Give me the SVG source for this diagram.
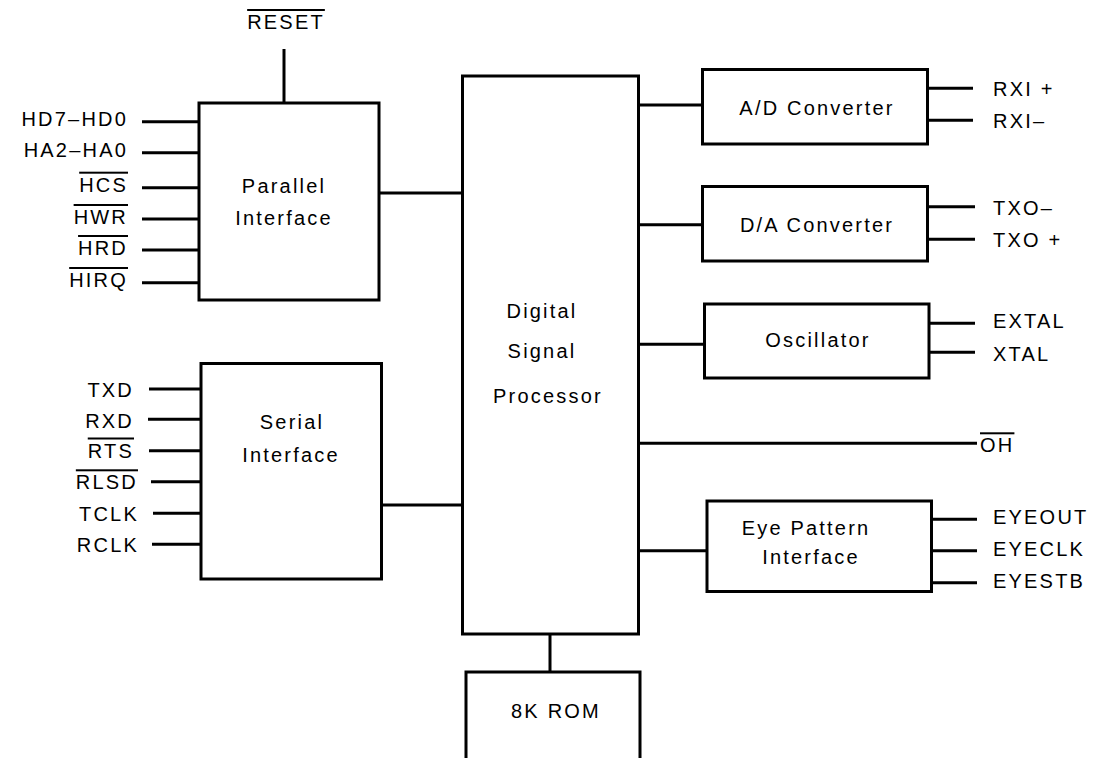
<svg xmlns="http://www.w3.org/2000/svg" width="1095" height="758" viewBox="0 0 1095 758">
<style>
.box{fill:none;stroke:#000;stroke-width:3}
.ln{stroke:#000;stroke-width:3;fill:none}
text{font-family:"Liberation Sans",Arial,sans-serif;font-size:20px;letter-spacing:2.2px;fill:#000}
.c{text-anchor:middle}
.e{text-anchor:end}
.ob{text-decoration:overline}
</style>
<rect x="0" y="0" width="1095" height="758" fill="#fff"/>
<g id="connectors">
<line class="ln" x1="284" y1="49" x2="284" y2="103"/>
<line class="ln" x1="142" y1="121.7" x2="199" y2="121.7"/>
<line class="ln" x1="142" y1="152.7" x2="199" y2="152.7"/>
<line class="ln" x1="142" y1="187.7" x2="199" y2="187.7"/>
<line class="ln" x1="142" y1="219" x2="199" y2="219"/>
<line class="ln" x1="142" y1="250" x2="199" y2="250"/>
<line class="ln" x1="142" y1="282.7" x2="199" y2="282.7"/>
<line class="ln" x1="379" y1="193" x2="462" y2="193"/>
<line class="ln" x1="149" y1="389" x2="201" y2="389"/>
<line class="ln" x1="148" y1="419.3" x2="201" y2="419.3"/>
<line class="ln" x1="149" y1="450.7" x2="201" y2="450.7"/>
<line class="ln" x1="151" y1="481.7" x2="201" y2="481.7"/>
<line class="ln" x1="153" y1="513.3" x2="201" y2="513.3"/>
<line class="ln" x1="152" y1="544.3" x2="201" y2="544.3"/>
<line class="ln" x1="381" y1="505" x2="462" y2="505"/>
<line class="ln" x1="638" y1="105" x2="703" y2="105"/>
<line class="ln" x1="638" y1="224.7" x2="703" y2="224.7"/>
<line class="ln" x1="638" y1="344.3" x2="705" y2="344.3"/>
<line class="ln" x1="638" y1="443.3" x2="977" y2="443.3"/>
<line class="ln" x1="638" y1="550.7" x2="707" y2="550.7"/>
<line class="ln" x1="550" y1="634" x2="550" y2="672"/>
<line class="ln" x1="927" y1="88.3" x2="973" y2="88.3"/>
<line class="ln" x1="927" y1="120.3" x2="973" y2="120.3"/>
<line class="ln" x1="927" y1="206.7" x2="975" y2="206.7"/>
<line class="ln" x1="927" y1="239.3" x2="975" y2="239.3"/>
<line class="ln" x1="929" y1="323.3" x2="975" y2="323.3"/>
<line class="ln" x1="929" y1="352.3" x2="975" y2="352.3"/>
<line class="ln" x1="931" y1="519.3" x2="977" y2="519.3"/>
<line class="ln" x1="931" y1="550.7" x2="977" y2="550.7"/>
<line class="ln" x1="931" y1="582.7" x2="977" y2="582.7"/>
</g>
<g id="parallel">
<rect class="box" x="199" y="103" width="180" height="197"/>
<text class="c" x="284" y="193">Parallel</text>
<text class="c" x="284" y="225">Interface</text>
</g>
<g id="serial">
<rect class="box" x="201" y="363.5" width="180.5" height="215.5"/>
<text class="c" x="292" y="429">Serial</text>
<text class="c" x="291" y="461.7">Interface</text>
</g>
<g id="dsp">
<rect class="box" x="462.5" y="76" width="176" height="558"/>
<text class="c" x="542" y="318">Digital</text>
<text class="c" x="542" y="358">Signal</text>
<text class="c" x="548" y="403">Processor</text>
</g>
<g id="rom">
<path class="ln" d="M466 758 V672 H640 V758"/>
<text class="c" x="556" y="718">8K ROM</text>
</g>
<g id="adc">
<rect class="box" x="702.5" y="69.5" width="225" height="74.5"/>
<text class="c" x="817" y="115">A/D Converter</text>
</g>
<g id="dac">
<rect class="box" x="702.5" y="186.5" width="225" height="74.5"/>
<text class="c" x="817" y="231.7">D/A Converter</text>
</g>
<g id="osc">
<rect class="box" x="704.5" y="304" width="224.5" height="74"/>
<text class="c" x="818" y="346.7">Oscillator</text>
</g>
<g id="eye">
<rect class="box" x="707" y="501" width="224.5" height="90.5"/>
<text class="c" x="806" y="535">Eye Pattern</text>
<text class="c" x="811" y="564">Interface</text>
</g>
<g id="labels">
<text class="c ob" x="286" y="29">RESET</text>
<text class="e" x="128" y="125.5">HD7–HD0</text>
<text class="e" x="128" y="156.7">HA2–HA0</text>
<text class="e ob" x="128" y="191.7">HCS</text>
<text class="e ob" x="128" y="224">HWR</text>
<text class="e ob" x="128" y="255">HRD</text>
<text class="e ob" x="128" y="287">HIRQ</text>
<text class="e" x="134" y="396.7">TXD</text>
<text class="e" x="134" y="428">RXD</text>
<text class="e ob" x="134" y="457.5">RTS</text>
<text class="e ob" x="138" y="489.3">RLSD</text>
<text class="e" x="139" y="520.7">TCLK</text>
<text class="e" x="139" y="551.7">RCLK</text>
<text x="993" y="95.7">RXI +</text>
<text x="993" y="128.3">RXI–</text>
<text x="993" y="215">TXO–</text>
<text x="993" y="247.3">TXO +</text>
<text x="993" y="328.3">EXTAL</text>
<text x="993" y="361">XTAL</text>
<text class="ob" x="980" y="452.3">OH</text>
<text x="993" y="524">EYEOUT</text>
<text x="993" y="556">EYECLK</text>
<text x="993" y="588.3">EYESTB</text>
</g>
</svg>
